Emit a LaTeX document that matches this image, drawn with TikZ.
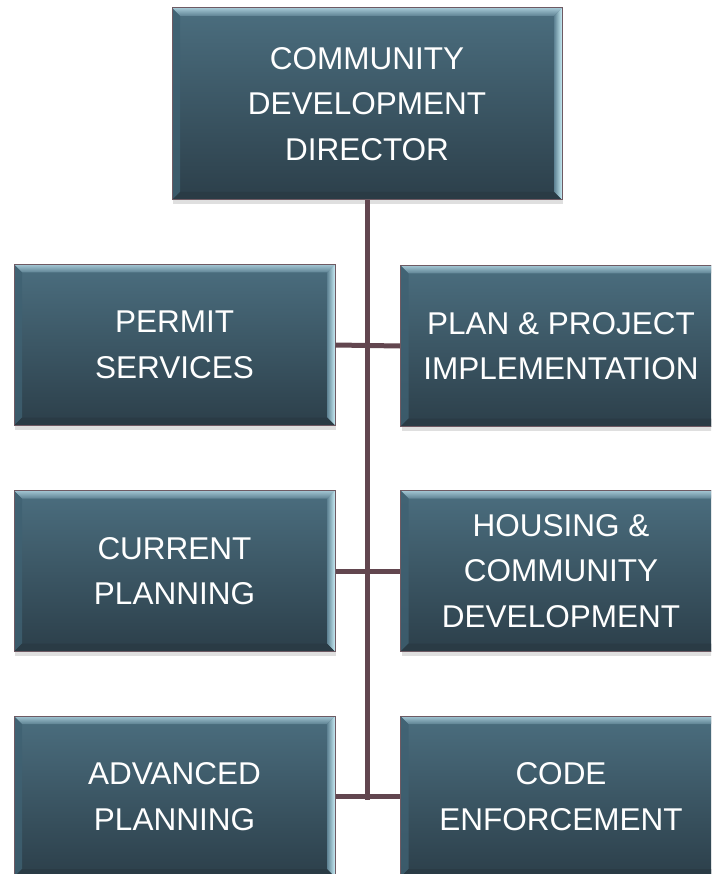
\documentclass[tikz,border=0pt]{standalone}
\usepackage{fontspec}
\setmainfont{Liberation Sans}
\usetikzlibrary{shadows}
\definecolor{boxtop}{HTML}{4B6E7F}
\definecolor{boxbot}{HTML}{2C3F4A}
\definecolor{boxborder}{HTML}{6E5A63}
\definecolor{bevhi}{HTML}{A3C6D3}
\definecolor{bevmid}{HTML}{5E8293}
\definecolor{bevright}{HTML}{C8ECF4}
\definecolor{bevleft}{HTML}{3F6172}
\definecolor{bevbot}{HTML}{2A3B45}
\definecolor{conn}{HTML}{62464F}
\tikzset{
  orgbox/.style={
    draw=boxborder, line width=1pt,
    top color=boxtop, bottom color=boxbot,
    text=white, align=center, inner sep=0pt,
    font=\fontsize{31.5}{45.5}\selectfont,
    drop shadow={opacity=0.25, shadow xshift=1pt, shadow yshift=-4pt},
    path picture={
      \coordinate (nw) at (path picture bounding box.north west);
      \coordinate (ne) at (path picture bounding box.north east);
      \coordinate (sw) at (path picture bounding box.south west);
      \coordinate (se) at (path picture bounding box.south east);
      \shade[top color=bevhi, bottom color=bevmid]
        (nw) -- (ne) -- ([shift={(-8pt,-8pt)}]ne) -- ([shift={(8pt,-8pt)}]nw) -- cycle;
      \shade[left color=bevmid, right color=bevright]
        (ne) -- (se) -- ([shift={(-8pt,8pt)}]se) -- ([shift={(-8pt,-8pt)}]ne) -- cycle;
      \fill[bevleft, opacity=0.8]
        (nw) -- (sw) -- ([shift={(8pt,8pt)}]sw) -- ([shift={(8pt,-8pt)}]nw) -- cycle;
      \fill[bevbot]
        (sw) -- (se) -- ([shift={(-8pt,8pt)}]se) -- ([shift={(8pt,8pt)}]sw) -- cycle;
    }},
  dirbox/.style={orgbox, minimum width=390pt, minimum height=192pt},
  unitbox/.style={orgbox, minimum width=321pt, minimum height=161pt},
  link/.style={draw=conn, line width=5pt}
}
\begin{document}
\begin{tikzpicture}[x=1pt,y=1pt]
\useasboundingbox (0,0) rectangle (711,-874);
\clip (0,0) rectangle (711,-874);
\node[dirbox]  (dir) at (367,-104)   {COMMUNITY\\DEVELOPMENT\\DIRECTOR};
\node[unitbox] (ps)  at (174.5,-345) {PERMIT\\SERVICES};
\node[unitbox] (ppi) at (561,-346)   {PLAN \& PROJECT\\IMPLEMENTATION};
\node[unitbox] (cp)  at (174.5,-571) {CURRENT\\PLANNING};
\node[unitbox] (hcd) at (561,-571)   {HOUSING \&\\COMMUNITY\\DEVELOPMENT};
\node[unitbox] (ap)  at (174.5,-796.5) {ADVANCED\\PLANNING};
\node[unitbox] (ce)  at (561,-796.5) {CODE\\ENFORCEMENT};
\coordinate (vend) at (367,-799.5);
\draw[link] (dir.south) -- (vend);
\draw[link] (ps.east) -- (ppi.west);
\draw[link] (cp.east) -- (hcd.west);
\draw[link] (ap.east) -- (ce.west);
\end{tikzpicture}
\end{document}
